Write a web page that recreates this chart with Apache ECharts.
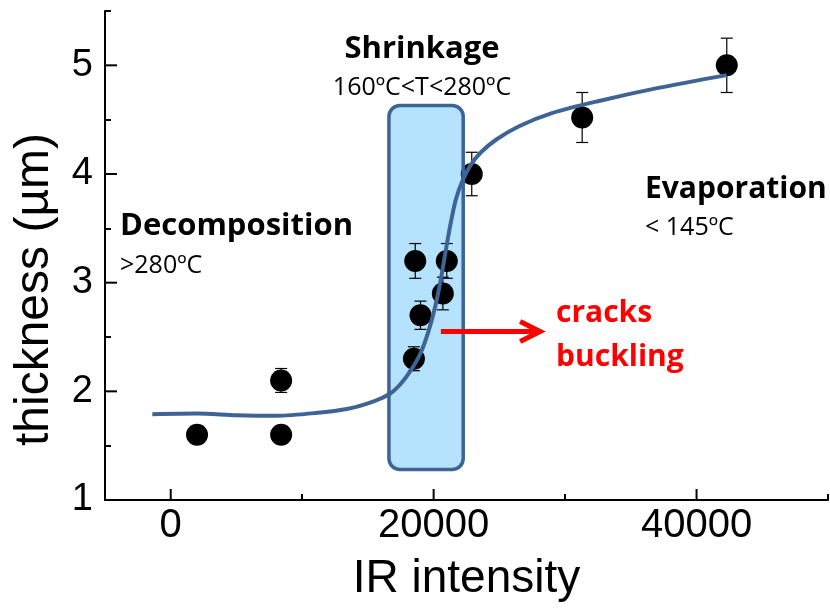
<!DOCTYPE html>
<html>
<head>
<meta charset="utf-8">
<script src="https://cdn.jsdelivr.net/npm/echarts@6/dist/echarts.min.js"></script>
<style>
  html, body { margin: 0; padding: 0; background: #ffffff; }
  #chart { width: 830px; height: 610px; }
</style>
</head>
<body>
<div id="chart"></div>
<script>
// Measured film thickness versus IR intensity
const irIntensity  = [2000, 8400, 8400, 18500, 18600, 19000, 20700, 21000, 22900, 31300, 42300];
const thickness    = [1.6, 1.6, 2.1, 2.3, 3.2, 2.7, 2.9, 3.2, 4.0, 4.52, 5.0];
const thicknessErr = [0, 0, 0.11, 0.11, 0.16, 0.13, 0.15, 0.16, 0.2, 0.23, 0.25];

// Sigmoidal guide curve through the data
const fitIntensity = [-1400, 2000, 5000, 8000, 11000, 13500, 15500, 16700, 17500, 18300, 19000, 19600, 20100,
                      20500, 20900, 21300, 21700, 22200, 22800, 23600, 24800, 26500, 29000, 32500, 37000, 42300];
const fitThickness = [1.79, 1.795, 1.78, 1.775, 1.80, 1.84, 1.91, 1.98, 2.07, 2.20, 2.35, 2.55, 2.77,
                      3.00, 3.28, 3.55, 3.77, 3.94, 4.08, 4.20, 4.32, 4.44, 4.56, 4.67, 4.79, 4.91];

// Shrinkage region (rounded box) and the crack / buckling arrow
const shrinkIntensity = [16600, 22250];
const shrinkThickness = [1.28, 4.63];
const arrowIntensity  = [20550, 28100];
const arrowThickness  = 2.55;

// Axis ticks
const xMajorTicks = [0, 20000, 40000];
const xMinorTicks = [10000, 30000, 50000];
const yMajorTicks = [1, 2, 3, 4, 5];
const yMinorTicks = [1.5, 2.5, 3.5, 4.5, 5.5];

const AXIS_FONT = "'Liberation Sans', Arial, sans-serif";
const NOTE_FONT = "'Open Sans', 'Noto Sans', sans-serif";
const CURVE_BLUE = '#3d6495';
const X_RANGE = { min: -5000, max: 50000 };
const Y_RANGE = { min: 1, max: 5.5 };
const PLOT_RECT = { left: 105, right: 2, top: 11, bottom: 110, outerBoundsMode: 'none', containLabel: false };

const chart = echarts.init(document.getElementById('chart'), null, { renderer: 'canvas' });

const points = irIntensity.map((x, i) => [x, thickness[i], thicknessErr[i]]);
const fitLine = fitIntensity.map((x, i) => [x, fitThickness[i]]);
const boxData = [[shrinkIntensity[0], shrinkThickness[0], shrinkIntensity[1], shrinkThickness[1]]];

function boxRender(kind) {
  return function (params, api) {
    const p0 = api.coord([api.value(0), api.value(3)]);
    const p1 = api.coord([api.value(2), api.value(1)]);
    const shape = { x: p0[0], y: p0[1], width: p1[0] - p0[0], height: p1[1] - p0[1], r: 11 };
    const style = kind === 'fill'
      ? { fill: '#b5e3fd', stroke: null }
      : { fill: null, stroke: CURVE_BLUE, lineWidth: 3.5 };
    return { type: 'rect', shape: shape, style: style };
  };
}

function errorBarRender(params, api) {
  const x = api.value(0), y = api.value(1), e = api.value(2);
  if (!e) return { type: 'group', children: [] };
  const top = api.coord([x, y + e]);
  const bot = api.coord([x, y - e]);
  const cap = 6;
  const st = { stroke: '#000', lineWidth: 1.2 };
  return {
    type: 'group',
    children: [
      { type: 'line', shape: { x1: top[0], y1: top[1], x2: bot[0], y2: bot[1] }, style: st },
      { type: 'line', shape: { x1: top[0] - cap, y1: top[1], x2: top[0] + cap, y2: top[1] }, style: st },
      { type: 'line', shape: { x1: bot[0] - cap, y1: bot[1], x2: bot[0] + cap, y2: bot[1] }, style: st }
    ]
  };
}

function arrowRender(params, api) {
  const a = api.coord([api.value(0), api.value(2)]);
  const b = api.coord([api.value(1), api.value(2)]);
  const st = { stroke: '#ff0000', lineWidth: 5, fill: null, lineJoin: 'miter', lineCap: 'butt' };
  return {
    type: 'group',
    children: [
      { type: 'line', shape: { x1: a[0], y1: a[1], x2: b[0] - 2, y2: b[1] }, style: st },
      { type: 'polyline', shape: { points: [[b[0] - 20, b[1] - 10], [b[0], b[1]], [b[0] - 20, b[1] + 10]] }, style: st }
    ]
  };
}

// Inward-pointing major tick marks placed through the axis scales
function majorTickRender(dir, len) {
  return function (params, api) {
    const p = api.coord([api.value(0), api.value(1)]);
    const shape = dir === 'x'
      ? { x: p[0] - 1, y: p[1] - len, width: 2, height: len }
      : { x: p[0], y: p[1] - 1, width: len, height: 2 };
    return { type: 'rect', shape: shape, style: { fill: '#000', stroke: null } };
  };
}

function note(text, x, y, size, bold, color, align) {
  return {
    type: 'text', x: x, y: y, z: 100,
    style: {
      text: text, fill: color || '#000', align: align || 'left', verticalAlign: 'middle',
      font: (bold ? 'bold ' : '') + size + 'px ' + NOTE_FONT
    }
  };
}

// An axis (in its own overlaid grid) that only contributes minor tick marks at the given values
function tickAxis(range, gridIndex, position, values, length, color) {
  return Object.assign({
    type: 'value', gridIndex: gridIndex, position: position,
    axisLine: { show: false, onZero: false },
    axisTick: { show: true, inside: true, length: length, customValues: values, lineStyle: { color: color, width: 2 } },
    axisLabel: { show: false },
    splitLine: { show: false }
  }, range);
}

const option = {
  backgroundColor: '#ffffff',
  animation: false,
  grid: [Object.assign({}, PLOT_RECT), Object.assign({}, PLOT_RECT)],
  xAxis: [
    Object.assign({
      type: 'value', gridIndex: 0, position: 'bottom',
      axisLine: { show: true, onZero: false, lineStyle: { color: '#000', width: 2 } },
      axisTick: { show: false },
      axisLabel: { show: true, customValues: xMajorTicks, color: '#000', fontSize: 40, fontFamily: AXIS_FONT, margin: 6,
                   formatter: v => String(v) },
      splitLine: { show: false },
      name: 'IR intensity', nameLocation: 'middle', nameGap: 56,
      nameTextStyle: { color: '#000', fontSize: 46, fontFamily: AXIS_FONT }
    }, X_RANGE),
    tickAxis(X_RANGE, 1, 'bottom', xMinorTicks, 6, '#010101')
  ],
  yAxis: [
    Object.assign({
      type: 'value', gridIndex: 0, position: 'left',
      axisLine: { show: true, onZero: false, lineStyle: { color: '#000', width: 2 } },
      axisTick: { show: false },
      axisLabel: { show: true, customValues: yMajorTicks, color: '#000', fontSize: 38, fontFamily: AXIS_FONT, margin: 12,
                   formatter: v => String(v) },
      splitLine: { show: false },
      name: 'thickness (µm)', nameLocation: 'middle', nameGap: 46,
      nameTextStyle: { color: '#000', fontSize: 48, fontFamily: AXIS_FONT, padding: [0, 68, 0, 0] }
    }, Y_RANGE),
    tickAxis(Y_RANGE, 1, 'left', yMinorTicks, 6, '#030303')
  ],
  series: [
    { type: 'custom', name: 'shrinkFill', z: 1, renderItem: boxRender('fill'), data: boxData, silent: true },
    { type: 'custom', name: 'errorBars', z: 2, renderItem: errorBarRender, data: points, silent: true },
    { type: 'scatter', name: 'thickness', z: 3, symbol: 'circle', symbolSize: 22,
      itemStyle: { color: '#000', opacity: 1 }, data: points.map(p => [p[0], p[1]]) },
    { type: 'custom', name: 'shrinkBorder', z: 4, renderItem: boxRender('border'), data: boxData, silent: true },
    { type: 'line', name: 'fit', z: 5, data: fitLine, smooth: 0.3, showSymbol: false,
      lineStyle: { color: CURVE_BLUE, width: 4 } },
    { type: 'custom', name: 'arrow', z: 6, renderItem: arrowRender,
      data: [[arrowIntensity[0], arrowIntensity[1], arrowThickness]], silent: true },
    { type: 'custom', name: 'xMajorTicks', z: 7, clip: false, silent: true, renderItem: majorTickRender('x', 11),
      data: xMajorTicks.map(v => [v, Y_RANGE.min]) },
    { type: 'custom', name: 'yMajorTicks', z: 7, clip: false, silent: true, renderItem: majorTickRender('y', 12),
      data: yMajorTicks.map(v => [X_RANGE.min, v]) }
  ],
  graphic: [
    note('Shrinkage', 422, 49, 31, true, '#000', 'center'),
    note('160ºC<T<280ºC', 422, 88, 25, false, '#000', 'center'),
    note('Decomposition', 120, 226, 31, true),
    note('>280ºC', 120, 266, 25, false),
    note('Evaporation', 645, 189, 30, true),
    note('< 145ºC', 645, 228, 25, false),
    note('cracks', 556, 313, 30, true, '#ff0000'),
    note('buckling', 556, 357, 30, true, '#ff0000')
  ]
};

chart.setOption(option);
</script>
</body>
</html>
